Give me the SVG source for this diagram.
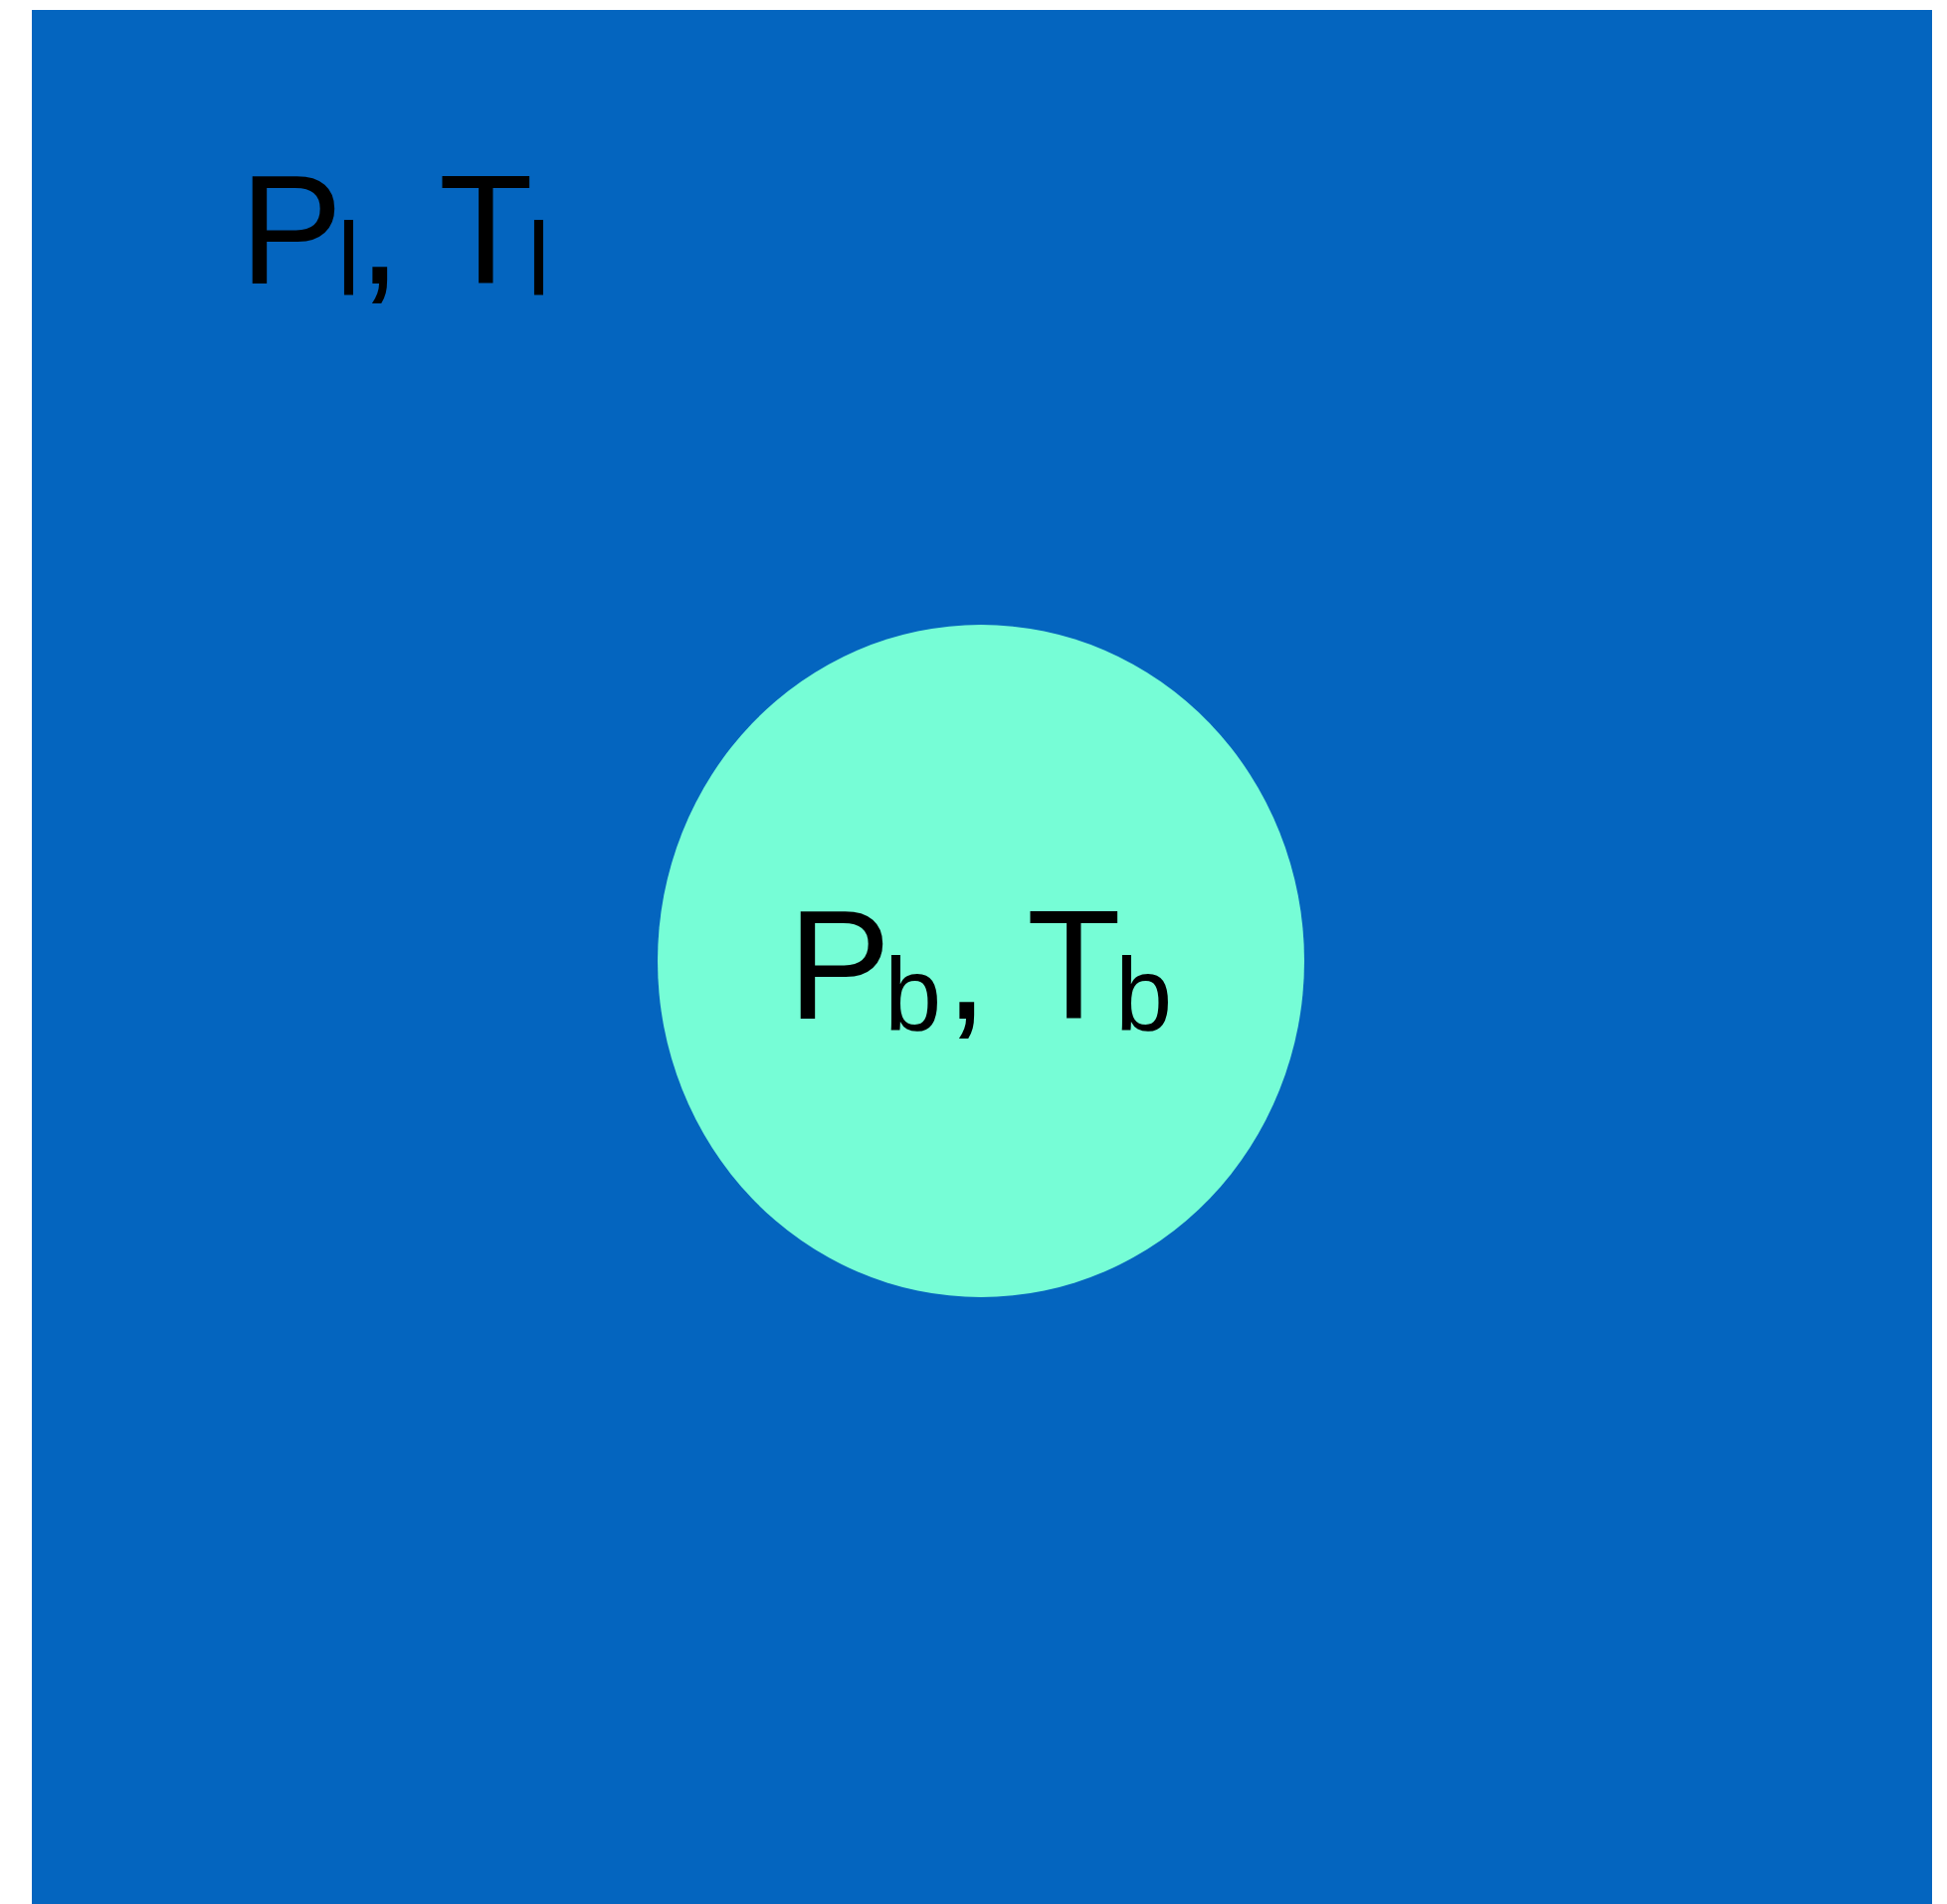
<svg xmlns="http://www.w3.org/2000/svg" width="1957" height="1914" viewBox="0 0 1957 1914">
<style>
.lbl{font-family:"Liberation Sans",Arial,sans-serif;font-size:155px;fill:#000}
.sub{font-size:103px}
</style>
<rect x="0" y="0" width="1957" height="1914" fill="#ffffff"/>
<g id="liquid">
<rect x="32" y="10" width="1910" height="1904" fill="#0465BF"/>
<text class="lbl"><tspan x="241" y="285">P</tspan><tspan class="sub" x="339" y="296">l</tspan><tspan x="360" y="285">,</tspan><tspan x="441" y="285">T</tspan><tspan class="sub" x="530" y="296">l</tspan></text>
</g>
<g id="bubble">
<ellipse cx="986" cy="966" rx="325" ry="338" fill="#76FDD6"/>
<text class="lbl"><tspan x="792" y="1024">P</tspan><tspan class="sub" x="889" y="1035">b</tspan><tspan x="950" y="1024">,</tspan><tspan x="1032" y="1024">T</tspan><tspan class="sub" x="1121" y="1035">b</tspan></text>
</g>
</svg>
